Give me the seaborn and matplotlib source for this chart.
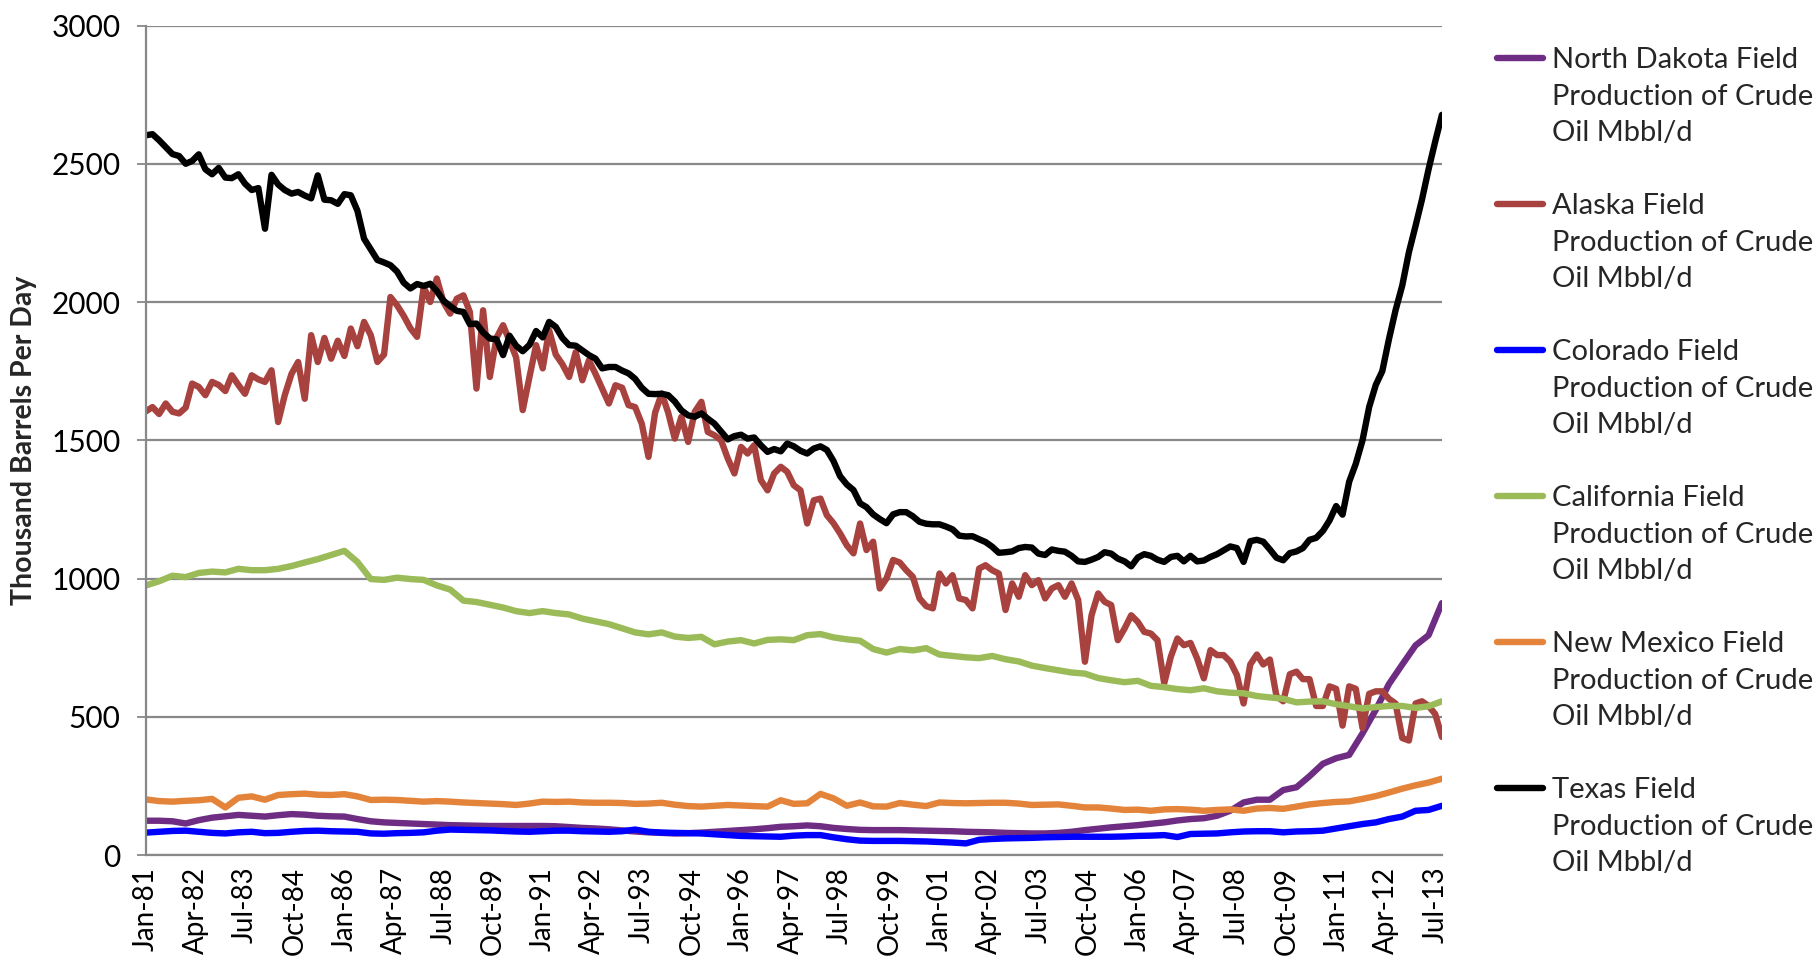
import pandas as pd
import matplotlib
matplotlib.use("Agg")
import matplotlib.pyplot as plt
from matplotlib.lines import Line2D
import seaborn as sns

# Field production of crude oil, thousand barrels per day
# Texas and Alaska every 2 months from Jan-81, the smoother series every 4 months
texas = [
    2603, 2607, 2585, 2560, 2535, 2528, 2500, 2510, 2534, 2480,
    2462, 2485, 2450, 2448, 2462, 2428, 2405, 2412, 2265, 2460,
    2425, 2405, 2392, 2398, 2385, 2375, 2458, 2370, 2368, 2355,
    2390, 2386, 2330, 2229, 2190, 2152, 2143, 2133, 2110, 2070,
    2049, 2065, 2058, 2066, 2040, 2005, 1985, 1968, 1964, 1920,
    1922, 1890, 1868, 1865, 1808, 1878, 1842, 1822, 1845, 1895,
    1872, 1928, 1910, 1870, 1844, 1842, 1825, 1808, 1795, 1760,
    1765, 1765, 1752, 1742, 1722, 1690, 1668, 1667, 1668, 1663,
    1640, 1608, 1590, 1585, 1597, 1578, 1560, 1532, 1503, 1515,
    1520, 1506, 1510, 1482, 1458, 1468, 1460, 1488, 1478, 1462,
    1452, 1470, 1478, 1465, 1425, 1370, 1340, 1320, 1272, 1258,
    1232, 1215, 1200, 1232, 1240, 1240, 1225, 1205, 1198, 1196,
    1196, 1188, 1178, 1155, 1152, 1153, 1142, 1132, 1115, 1093,
    1095, 1098, 1110, 1114, 1112, 1090, 1085, 1105, 1100, 1097,
    1082, 1062, 1060, 1068, 1078, 1095, 1090, 1072, 1062, 1044,
    1076, 1088, 1082, 1068, 1060, 1078, 1082, 1062, 1082, 1062,
    1065, 1078, 1088, 1102, 1116, 1110, 1060, 1135, 1140, 1133,
    1105, 1075, 1066, 1092, 1098, 1110, 1140, 1147, 1172, 1210,
    1262, 1231, 1350, 1415, 1500, 1620, 1700, 1750, 1865, 1970,
    2060, 2180, 2275, 2370, 2480, 2580, 2677,
]
alaska = [
    1605, 1620, 1595, 1633, 1603, 1597, 1618, 1705, 1693, 1663,
    1711, 1700, 1678, 1735, 1700, 1668, 1735, 1720, 1711, 1753,
    1566, 1663, 1740, 1783, 1650, 1880, 1783, 1870, 1795, 1860,
    1805, 1904, 1840, 1928, 1880, 1783, 1810, 2018, 1988, 1950,
    1905, 1874, 2055, 2000, 2085, 2000, 1958, 2012, 2024, 1964,
    1687, 1970, 1729, 1870, 1916, 1860, 1800, 1609, 1729, 1844,
    1760, 1898, 1810, 1775, 1729, 1819, 1717, 1789, 1740, 1687,
    1633, 1699, 1690, 1627, 1620, 1560, 1440, 1600, 1669, 1600,
    1506, 1585, 1494, 1603, 1639, 1530, 1518, 1500, 1434, 1380,
    1476, 1452, 1482, 1356, 1319, 1380, 1404, 1386, 1337, 1319,
    1199, 1283, 1289, 1229, 1200, 1163, 1120, 1091, 1199, 1103,
    1133, 964, 1000, 1067, 1058, 1030, 1006, 928, 900, 892,
    1018, 982, 1012, 928, 922, 892, 1036, 1048, 1030, 1018,
    886, 982, 934, 1012, 976, 994, 928, 964, 976, 934,
    982, 922, 699, 867, 946, 916, 904, 777, 819, 867,
    843, 807, 801, 777, 621, 717, 783, 759, 767, 711,
    639, 741, 723, 723, 699, 651, 548, 689, 725, 689,
    707, 574, 556, 654, 663, 636, 636, 539, 539, 610,
    601, 468, 610, 601, 459, 583, 592, 592, 565, 548,
    423, 414, 548, 556, 539, 510, 427,
]
california = [
    975, 990, 1010, 1005, 1020, 1025, 1022, 1035, 1030, 1030,
    1035, 1045, 1058, 1070, 1085, 1100, 1060, 998, 995, 1003,
    998, 995, 975, 960, 920, 915, 905, 895, 882, 875,
    882, 875, 870, 855, 845, 835, 820, 805, 798, 805,
    790, 785, 789, 762, 772, 777, 765, 778, 780, 777,
    795, 799, 787, 780, 775, 745, 732, 745, 740, 748,
    725, 720, 715, 712, 720, 708, 700, 685, 676, 668,
    660, 656, 640, 632, 625, 630, 612, 607, 600, 596,
    603, 592, 587, 585, 575, 570, 565, 552, 555, 556,
    545, 538, 530, 535, 539, 539, 532, 538, 556,
]
new_mexico = [
    201, 195, 193, 196, 198, 203, 172, 207, 212, 200,
    217, 220, 222, 218, 217, 220, 212, 199, 200, 199,
    196, 193, 195, 193, 190, 188, 186, 184, 181, 186,
    193, 192, 193, 190, 189, 189, 188, 185, 186, 189,
    182, 177, 175, 178, 181, 179, 177, 175, 198, 185,
    187, 221, 205, 178, 190, 176, 175, 188, 182, 177,
    190, 188, 187, 188, 189, 189, 186, 181, 182, 183,
    178, 172, 172, 168, 163, 164, 160, 165, 166, 164,
    160, 163, 165, 160, 168, 170, 167, 175, 183, 188,
    192, 194, 203, 213, 226, 240, 252, 262, 276,
]
colorado = [
    81, 84, 87, 88, 84, 80, 78, 82, 84, 79,
    80, 84, 87, 88, 86, 85, 84, 78, 77, 79,
    80, 82, 88, 92, 91, 90, 89, 87, 85, 84,
    86, 88, 88, 86, 85, 84, 86, 92, 84, 81,
    80, 79, 78, 75, 72, 69, 68, 67, 66, 70,
    72, 72, 64, 57, 52, 51, 51, 51, 50, 49,
    47, 45, 42, 55, 58, 60, 61, 62, 64, 65,
    66, 66, 66, 66, 67, 69, 70, 72, 65, 76,
    77, 78, 82, 85, 86, 86, 82, 85, 86, 88,
    96, 104, 112, 118, 130, 139, 160, 163, 178,
]
north_dakota = [
    124, 124, 122, 114, 126, 135, 140, 145, 142, 139,
    144, 148, 146, 142, 140, 139, 130, 122, 118, 116,
    114, 112, 110, 108, 107, 106, 105, 105, 105, 105,
    105, 104, 101, 98, 96, 93, 89, 85, 82, 80,
    78, 79, 81, 84, 87, 90, 93, 97, 102, 104,
    107, 104, 98, 94, 91, 90, 90, 90, 89, 88,
    87, 86, 84, 83, 82, 80, 79, 78, 78, 80,
    84, 90, 95, 100, 104, 108, 113, 118, 125, 130,
    133, 142, 160, 190, 200, 200, 235, 245, 285, 330,
    350, 362, 440, 525, 618, 689, 758, 795, 911,
]

dates_2m = pd.date_range("1981-01-01", periods=len(texas), freq="2MS")
dates_4m = pd.date_range("1981-01-01", periods=len(california), freq="4MS")

series = [
    ("North Dakota Field\nProduction of Crude\nOil Mbbl/d", north_dakota, dates_4m, "#6E2C82"),
    ("Alaska Field\nProduction of Crude\nOil Mbbl/d", alaska, dates_2m, "#A8423F"),
    ("Colorado Field\nProduction of Crude\nOil Mbbl/d", colorado, dates_4m, "#0000FF"),
    ("California Field\nProduction of Crude\nOil Mbbl/d", california, dates_4m, "#9BBB59"),
    ("New Mexico Field\nProduction of Crude\nOil Mbbl/d", new_mexico, dates_4m, "#E3843A"),
    ("Texas Field\nProduction of Crude\nOil Mbbl/d", texas, dates_2m, "#000000"),
]

sns.set_style("white")
plt.rcParams["font.family"] = ["Lato", "DejaVu Sans"]

grey = "#888888"
lw = 4.6
fig = plt.figure(figsize=(18.19, 9.66), dpi=100)
ax = fig.add_axes([0.0803, 0.1149, 0.7124, 0.8587])

for name, vals, dates, col in series:
    df = pd.DataFrame({"date": dates, "value": vals})
    sns.lineplot(data=df, x="date", y="value", ax=ax, color=col, linewidth=lw,
                 legend=False, solid_joinstyle="round", solid_capstyle="round")

# axes styling (Excel look)
ax.set_ylim(0, 3000)
ax.set_yticks(range(0, 3001, 500))
ax.yaxis.grid(True, color=grey, linewidth=1.6)
ax.xaxis.grid(False)
ax.set_xlim(dates_2m[0], dates_2m[-1])
ticks = pd.date_range("1981-01-01", "2013-07-01", freq="15MS")
ax.set_xticks(ticks)
ax.set_xticklabels([d.strftime("%b-%y") for d in ticks], rotation=90)

for side in ["top", "right"]:
    ax.spines[side].set_visible(False)
for side in ["left", "bottom"]:
    ax.spines[side].set_color(grey)
    ax.spines[side].set_linewidth(1.6)

ax.tick_params(axis="both", direction="out", length=6.5, width=1.3, color=grey,
               labelcolor="black")
ax.tick_params(axis="x", pad=2, labelsize=20)
ax.tick_params(axis="y", pad=12, left=True, labelsize=21.5)
ax.set_xlabel("")
ax.set_ylabel("Thousand Barrels Per Day", fontsize=20.5, fontweight="bold")
ax.yaxis.set_label_coords(-0.084, 0.5)

# legend: line sample beside the first line of each 3-line label
handles, labels = [], []
for name, vals, dates, col in series:
    parts = name.split("\n")
    handles.append(Line2D([], [], color=col, linewidth=lw))
    labels.append(parts[0])
    for extra in parts[1:] + [" "]:
        handles.append(Line2D([], [], color="none"))
        labels.append(extra)
handles, labels = handles[:-1], labels[:-1]

fig.legend(handles, labels, loc="upper left", bbox_to_anchor=(0.823, 0.951),
           frameon=False, fontsize=21, handlelength=1.58, handletextpad=0.3,
           labelspacing=0.36, borderpad=0, borderaxespad=0)

fig.savefig("out.png", dpi=100)
plt.close(fig)
